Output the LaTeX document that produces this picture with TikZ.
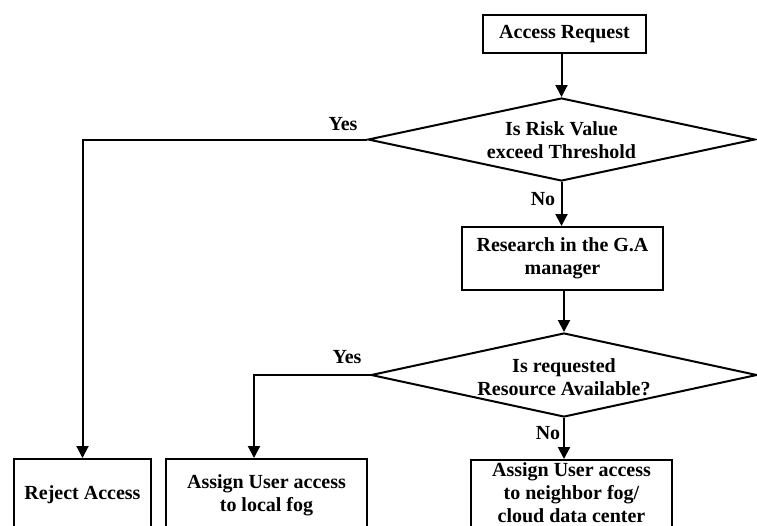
\documentclass[tikz,border=0pt]{standalone}
\usepackage{fontspec}
\setmainfont{Liberation Serif}
\usetikzlibrary{shapes.geometric,arrows.meta}
\begin{document}
\begin{tikzpicture}[x=1pt,y=-1pt,
  every node/.style={font=\fontsize{20}{23}\selectfont\bfseries},
  box/.style={draw,line width=2pt,rectangle,inner sep=0pt,align=center},
  dia/.style={draw,line width=2pt,diamond,inner sep=0pt},
  lbl/.style={inner sep=0pt,align=center},
  conn/.style={line width=2pt,-{Triangle[length=12pt,width=12pt]}}]
\useasboundingbox (0,0) rectangle (757,525);
\clip (0,0) rectangle (757,525);
\fill[white] (0,0) rectangle (757,525);
% nodes
\node[box,minimum width=163pt,minimum height=38pt] (req) at (564.5,34) {Access Request};
\node[dia,minimum width=387pt,minimum height=83pt] (d1) at (561.5,139.5) {};
\node[lbl] (d1t) at (561.5,140.5) {Is Risk Value\\exceed Threshold};
\node[box,minimum width=201pt,minimum height=63pt] (res) at (562.5,258.5) {Research in the G.A\\manager};
\node[dia,minimum width=386pt,minimum height=84pt] (d2) at (564,375) {};
\node[lbl] (d2t) at (564,377) {Is requested\\Resource Available?};
\node[box,minimum width=137pt,minimum height=72pt] (rej) at (82.5,495) {Reject Access};
\node[box,minimum width=201pt,minimum height=72pt] (loc) at (266.5,495) {Assign User access\\to local fog};
\node[box,minimum width=201pt,minimum height=72pt] (nb) at (571.5,496) {};
\node[lbl] (nbt) at (571.5,492.5) {Assign User access\\to neighbor fog/\\cloud data center};
% labels
\node[lbl] (y1) at (343,124) {Yes};
\node[lbl] (n1) at (543,199) {No};
\node[lbl] (y2) at (347,357) {Yes};
\node[lbl] (n2) at (548,433) {No};
% connectors
\draw[conn] (req.south -| d1.north) -- (d1.north);
\draw[conn] (d1.south) -- (res.north -| d1.south);
\draw[conn] (res.south -| d2.north) -- (d2.north);
\draw[conn] (d2.south) -- (nb.north -| d2.south);
\draw[conn] (d1.west) -| (rej.north);
\coordinate (locin) at ([xshift=-12.5pt]loc.north);
\draw[conn] (d2.west) -| (locin);
\end{tikzpicture}
\end{document}
